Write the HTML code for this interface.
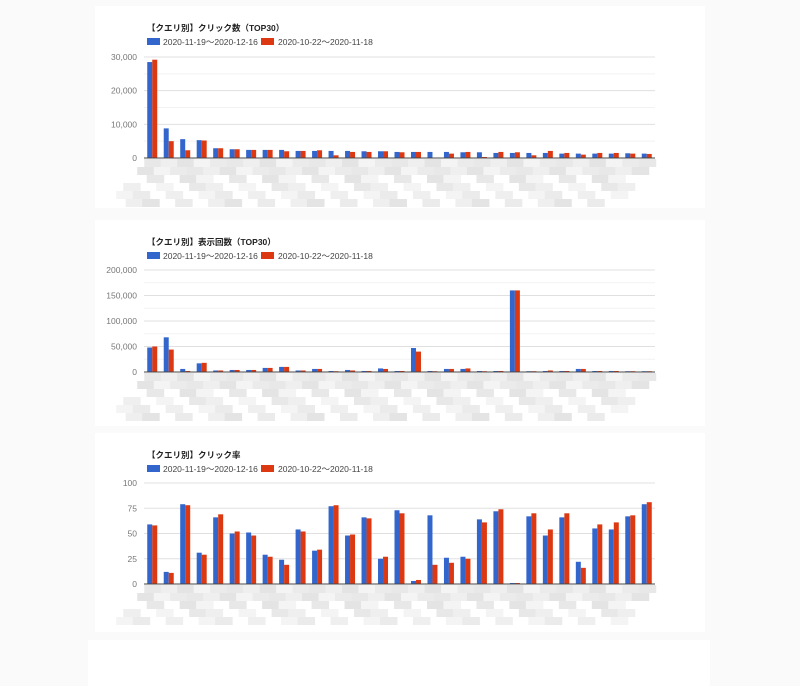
<!DOCTYPE html>
<html><head><meta charset="utf-8"><style>
html,body{margin:0;padding:0;background:#fafafa;width:800px;height:686px;overflow:hidden}
svg{display:block}
text{font-family:"Liberation Sans","Noto Sans CJK JP",sans-serif}
</style></head><body>
<svg id="s" width="800" height="686" xmlns="http://www.w3.org/2000/svg">
<rect x="95" y="6" width="610" height="202" fill="#fff"/>
<rect x="95" y="220" width="610" height="206" fill="#fff"/>
<rect x="95" y="433" width="610" height="199" fill="#fff"/>
<rect x="88" y="640" width="622" height="46" fill="#fff"/>
</svg>
<script>
var s=document.getElementById('s');var ns='http://www.w3.org/2000/svg';
function el(t,a,txt){var e=document.createElementNS(ns,t);for(var k in a)e.setAttribute(k,a[k]);if(txt!=null)e.textContent=txt;s.appendChild(e);return e;}
var B='#3366cc',R='#dc3912';
var d1=[[28.5,29.2],[8.8,5],[5.6,2.3],[5.3,5.2],[2.9,2.9],[2.6,2.6],[2.4,2.4],[2.4,2.4],[2.4,2],[2.1,2.1],[2.1,2.3],[2.1,0.8],[2.1,1.8],[2,1.8],[2,2],[1.8,1.7],[1.8,1.8],[1.8,0],[1.8,1.3],[1.7,1.8],[1.7,0.3],[1.5,1.8],[1.5,1.7],[1.5,0.8],[1.5,2.1],[1.3,1.5],[1.3,1],[1.3,1.5],[1.3,1.5],[1.4,1.3],[1.3,1.2]].map(function(p){return [p[0]*1000,p[1]*1000]});
var d2=[[48,50],[68,44],[6,2],[17,18],[3,3],[4,4],[4,4],[8,8],[10,10],[3,3],[6,6],[2,1],[4,3],[2,2],[7,6],[2,2],[47,40],[2,0.5],[6,6],[6,7],[2,0.5],[2,2],[160,160],[1.5,1],[2,3],[2,2],[6,6],[2,2],[2,2],[1.5,1.5],[1.5,1.5]].map(function(p){return [p[0]*1000,p[1]*1000]});
var d3=[[59,58],[12,11],[79,78],[31,29],[66,69],[50,52],[51,48],[29,27],[24,19],[54,52],[33,34],[77,78],[48,49],[66,65],[25,27],[73,70],[3,4],[68,19],[26,21],[27,25],[64,61],[72,74],[1,1],[67,70],[48,54],[66,70],[22,16],[55,59],[54,61],[67,68],[79,81]];
function fmt(v){return v.toString().replace(/\B(?=(\d{3})+(?!\d))/g,',');}
function chart(oy,title,data,max,ticks,minor,top,base,rows){
 el('text',{x:147,y:oy+27,'font-size':'8.5','font-weight':'bold',fill:'#222'},title);
 el('rect',{x:147,y:oy+34,width:13,height:7,fill:B});
 el('text',{x:163,y:oy+41,'font-size':'8.5',fill:'#444'},'2020-11-19～2020-12-16');
 el('rect',{x:261,y:oy+34,width:13,height:7,fill:R});
 el('text',{x:278,y:oy+41,'font-size':'8.5',fill:'#444'},'2020-10-22～2020-11-18');
 var x0=144,x1=655,h=base-top;
 if(minor){for(var i=0;i<ticks.length-1;i++){var v=(ticks[i]+ticks[i+1])/2;var y=base-v/max*h;el('line',{x1:x0,x2:x1,y1:y,y2:y,stroke:'#f2f2f2','stroke-width':1});}}
 ticks.forEach(function(v){var y=base-v/max*h;el('line',{x1:x0,x2:x1,y1:y,y2:y,stroke:'#e0e0e0','stroke-width':1});
  el('text',{x:137,y:y+3,'font-size':'8.5',fill:'#777','text-anchor':'end'},fmt(v));});
 var n=data.length,gw=(x1-x0)/n;
 var c=['#e8e8e8','#efefef','#e4e4e4','#f4f4f4','#ebebeb'];
 data.forEach(function(p,i){var gx=x0+i*gw+gw/2;
  for(var r=0;r<rows;r++){if(r>1&&((i*7+r*3)%5<2))continue;el('rect',{x:gx-8-r*7,y:base+1+r*8,width:gw+1,height:8,fill:c[(i+r*2)%5]});}
 });
 data.forEach(function(p,i){var gx=x0+i*gw+gw/2;
  [[p[0],B,gx-5],[p[1],R,gx]].forEach(function(q){var bh=q[0]/max*h;if(bh<0.8&&q[0]>0)bh=0.8;el('rect',{x:q[2],y:base-bh,width:5,height:bh,fill:q[1]});});
 });
 el('line',{x1:x0,x2:x1,y1:base,y2:base,stroke:'#444','stroke-width':1});
}
chart(4,'【クエリ別】クリック数（TOP30）',d1,30000,[0,10000,20000,30000],true,57,158,6);
chart(218,'【クエリ別】表示回数（TOP30）',d2,200000,[0,50000,100000,150000,200000],true,270,372,6);
chart(431,'【クエリ別】クリック率',d3,100,[0,25,50,75,100],false,483,584,5);
</script>
</body></html>
